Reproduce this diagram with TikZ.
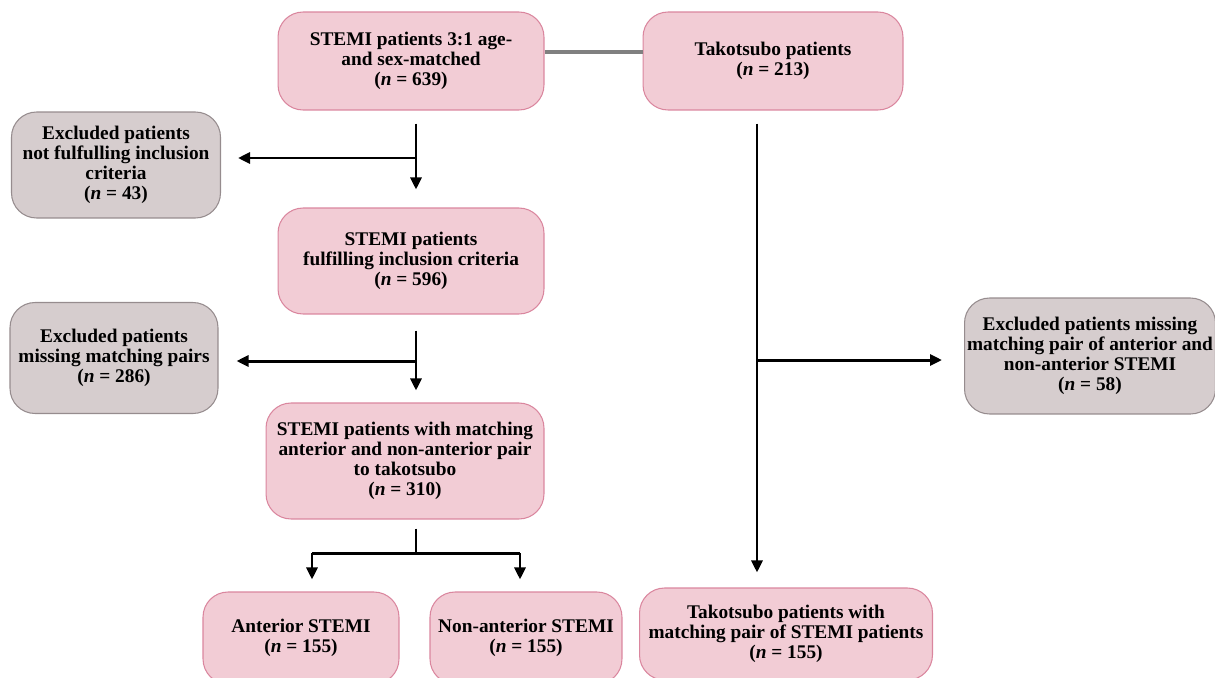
\documentclass[tikz,border=0pt]{standalone}
\usepackage{fontspec}
\setmainfont{Liberation Serif}
\usetikzlibrary{arrows.meta}

\definecolor{boxpink}{RGB}{242,204,213}
\definecolor{edgepink}{RGB}{218,134,158}
\definecolor{boxgrey}{RGB}{214,205,206}
\definecolor{edgegrey}{RGB}{150,140,142}

\tikzset{
  txt/.style={font=\bfseries\fontsize{11}{11.4}\selectfont, align=center, inner sep=0pt},
  stemibox/.style={txt, draw=edgepink, fill=boxpink, line width=0.6pt, rounded corners=0.5cm},
  exclbox/.style={txt, draw=edgegrey, fill=boxgrey, line width=0.6pt, rounded corners=0.5cm},
  flow/.style={line width=1.7pt, -{Triangle[length=2.4mm,width=2.2mm]}},
  flowline/.style={line width=1.7pt},
  link/.style={draw=black!50, line width=2pt}
}

\begin{document}
\begin{tikzpicture}[x=0.02cm,y=0.02cm]
    \useasboundingbox (0,0) rectangle (1215,-677);
    \clip (0,0) rectangle (1215,-677);
    % boxes
    \node [stemibox, minimum width=5.32cm, minimum height=1.96cm] (stemiAll) at (411,-61)
        {STEMI patients 3:1 age-\\and sex-matched\\(\textit{n} = 639)};
    \node [stemibox, minimum width=5.2cm, minimum height=1.96cm] (tako) at (773,-61)
        {Takotsubo patients\\(\textit{n} = 213)};
    \node [exclbox, minimum width=4.18cm, minimum height=2.12cm] (exclA) at (116,-165)
        {Excluded patients\\not fulfulling inclusion\\criteria\\(\textit{n} = 43)};
    \node [stemibox, minimum width=5.32cm, minimum height=2.12cm] (stemiIncl) at (411,-261)
        {STEMI patients\\fulfilling inclusion criteria\\(\textit{n} = 596)};
    \node [exclbox, minimum width=4.16cm, minimum height=2.22cm] (exclB) at (114,-358)
        {Excluded patients\\missing matching pairs\\(\textit{n} = 286)};
    \node [stemibox, minimum width=5.56cm, minimum height=2.32cm] (stemiPair) at (405,-461)
        {STEMI patients with matching\\anterior and non-anterior pair\\to takotsubo\\(\textit{n} = 310)};
    \node [stemibox, minimum width=3.92cm, minimum height=1.84cm] (ant) at (301,-638)
        {Anterior STEMI\\(\textit{n} = 155)};
    \node [stemibox, minimum width=3.84cm, minimum height=1.84cm] (nonAnt) at (526,-638)
        {Non-anterior STEMI\\(\textit{n} = 155)};
    \node [stemibox, minimum width=5.86cm, minimum height=1.84cm] (takoPair) at (786,-634)
        {Takotsubo patients with\\matching pair of STEMI patients\\(\textit{n} = 155)};
    \node [exclbox, minimum width=5.02cm, minimum height=2.32cm] (exclC) at (1090,-356)
        {Excluded patients missing\\matching pair of anterior and\\non-anterior STEMI\\(\textit{n} = 58)};
    % junctions
    \coordinate (j1) at (416,-158);
    \coordinate (j2) at (416,-361);
    \coordinate (j3) at (416,-553);
    \coordinate (j4) at (757,-360);
    % connectors
    \draw [link] ([yshift=0.18cm]stemiAll.east) -- ([yshift=0.18cm]tako.west);
    \draw [flow, shorten <=0.26cm, shorten >=0.36cm] (j1 |- stemiAll.south) -- (j1 |- stemiIncl.north);
    \draw [flow, shorten >=0.34cm] (j1) -- (j1 -| exclA.east);
    \draw [flow, shorten <=0.32cm, shorten >=0.24cm] (j2 |- stemiIncl.south) -- (j2 |- stemiPair.north);
    \draw [flow, shorten >=0.36cm] (j2) -- (j2 -| exclB.east);
    \draw [flowline, shorten <=0.18cm] (j3 |- stemiPair.south) -- (j3);
    \draw [flowline] (j3 -| 312,0) -- (j3 -| 520,0);
    \draw [flow, shorten >=0.24cm] (j3 -| 312,0) -- (ant.north -| 312,0);
    \draw [flow, shorten >=0.24cm] (j3 -| 520,0) -- (nonAnt.north -| 520,0);
    \draw [flow, shorten <=0.26cm, shorten >=0.3cm] (j4 |- tako.south) -- (j4 |- takoPair.north);
    \draw [flow, shorten >=0.44cm] (j4) -- (j4 -| exclC.west);
\end{tikzpicture}
\end{document}
